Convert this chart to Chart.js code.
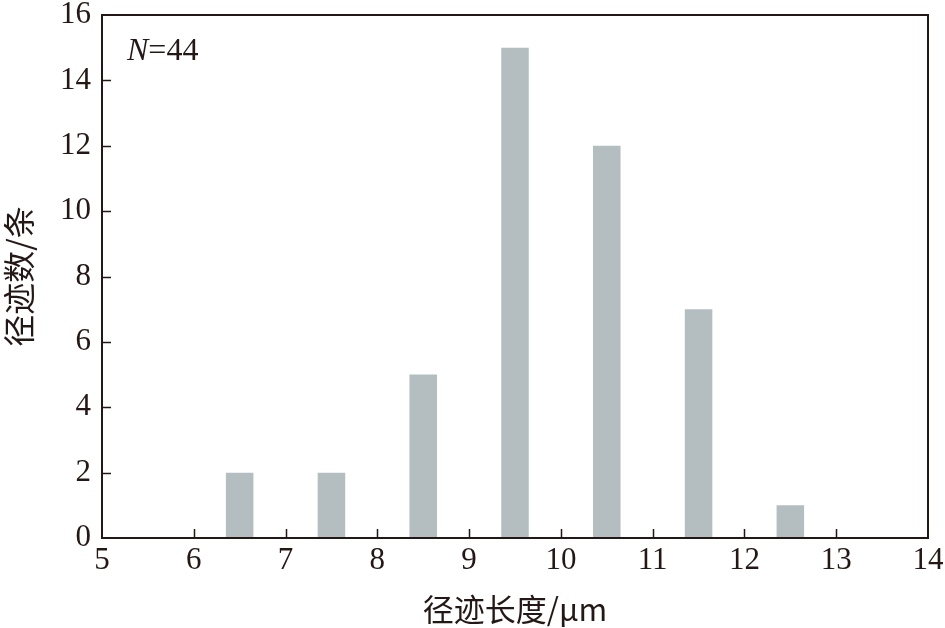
<!DOCTYPE html>
<html><head><meta charset="utf-8">
<script src="https://cdn.jsdelivr.net/npm/chart.js@4.4.1/dist/chart.umd.min.js"></script>
<style>html,body{margin:0;padding:0;background:#fff}#wrap{width:945px;height:628px}</style>
</head><body><div id="wrap"><canvas id="c" width="945" height="628"></canvas></div>
<script>
const binCenters = [6.5, 7.5, 8.5, 9.5, 10.5, 11.5, 12.5];
const trackCounts = [2, 2, 5, 15, 12, 7, 1];
const xTitle = '径迹长度/μm';
const yTitle = '径迹数/条';
const annotationLabel = ['N', '=44'];

const ink = '#231815';
const serif = "'Liberation Serif', serif";
const cjk = "'Noto Sans CJK SC', sans-serif";

const framePlugin = {
  id: 'frame',
  afterDraw(chart) {
    const {ctx, chartArea: a, scales: {x, y}} = chart;
    ctx.save();
    ctx.strokeStyle = ink;
    ctx.lineWidth = 2;
    ctx.strokeRect(a.left, a.top, a.right - a.left, a.bottom - a.top);
    ctx.lineWidth = 1.5;
    ctx.beginPath();
    x.ticks.forEach(t => {
      if (t.value <= x.min || t.value >= x.max) return;
      const px = Math.round(x.getPixelForValue(t.value)) + 0.5;
      ctx.moveTo(px, a.bottom); ctx.lineTo(px, a.bottom - 9);
    });
    y.ticks.forEach(t => {
      if (t.value <= y.min || t.value >= y.max) return;
      const py = Math.round(y.getPixelForValue(t.value)) + 0.5;
      ctx.moveTo(a.left, py); ctx.lineTo(a.left + 9, py);
    });
    ctx.stroke();
    ctx.fillStyle = ink;
    ctx.textBaseline = 'alphabetic';
    ctx.font = 'italic 32px ' + serif;
    const nx = a.left + 25, ny = a.top + 45;
    ctx.fillText(annotationLabel[0], nx, ny);
    const w = ctx.measureText(annotationLabel[0]).width;
    ctx.font = '32px ' + serif;
    ctx.fillText(annotationLabel[1], nx + w, ny);
    ctx.restore();
  }
};

new Chart(document.getElementById('c'), {
  type: 'bar',
  data: {
    datasets: [{
      data: binCenters.map((c, i) => ({x: c, y: trackCounts[i]})),
      backgroundColor: '#b4bec0',
      borderWidth: 0,
      barPercentage: 0.3,
      categoryPercentage: 1.0
    }]
  },
  plugins: [framePlugin],
  options: {
    responsive: false,
    animation: false,
    layout: {padding: {top: 15, right: 17, left: 0, bottom: 0}},
    plugins: {legend: {display: false}, tooltip: {enabled: false}},
    scales: {
      x: {
        type: 'linear', min: 5, max: 14, offset: false,
        grid: {display: false, drawTicks: false},
        border: {display: false},
        ticks: {stepSize: 1, color: ink, font: {family: serif, size: 31}, padding: 4, maxRotation: 0},
        title: {display: true, text: xTitle, color: ink, font: {family: cjk, size: 31}, padding: {top: 0, bottom: 0}},
        afterFit(s) { s.height = 90; s.paddingLeft = 0; s.paddingRight = 0; }
      },
      y: {
        min: 0, max: 16,
        grid: {display: false, drawTicks: false},
        border: {display: false},
        ticks: {stepSize: 2, color: ink, font: {family: serif, size: 31}, padding: 11},
        title: {display: true, text: yTitle, color: ink, font: {family: cjk, size: 32}, padding: {top: 0, bottom: 2}},
        afterFit(s) { s.width = 102; s.paddingTop = 0; s.paddingBottom = 0; }
      }
    }
  }
});
</script></body></html>
